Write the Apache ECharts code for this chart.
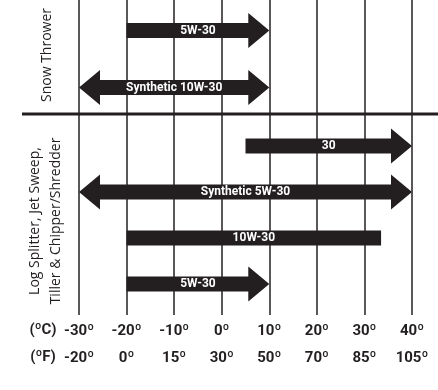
<!DOCTYPE html>
<html><head><meta charset="utf-8">
<script src="https://cdn.jsdelivr.net/npm/echarts@6/dist/echarts.min.js"></script>
<style>html,body{margin:0;padding:0;background:#fff}#c{width:438px;height:390px}</style>
</head><body><div id="c"></div>
<script>
// ---- data ----
const celsiusTicks = ['-30º','-20º','-10º','0º','10º','20º','30º','40º'];
const fahrenheitTicks = ['-20º','0º','15º','30º','50º','70º','85º','105º'];

const snowGroup = 'Snow Thrower';
const snowOils = ['5W-30', 'Synthetic 10W-30'];
const snowFrom = [-20, -30];
const snowTo = [10, 10];
const snowArrowLeft = [0, 1];
const snowArrowRight = [1, 1];

const logGroup = ['Log Splitter, Jet Sweep,', 'Tiller & Chipper/Shredder'];
const logOils = ['30', 'Synthetic 5W-30', '10W-30', '5W-30'];
const logFrom = [5, -30, -20, -20];
const logTo = [40, 40, 33.5, 10];
const logArrowLeft = [0, 1, 0, 0];
const logArrowRight = [1, 1, 0, 1];

// ---- style ----
const INK = '#231f20';
const COND = '"Liberation Sans Narrow", "Arial Narrow", "Roboto", sans-serif';
const REG = '"Open Sans", "Noto Sans", sans-serif';
const GL = 79, GR = 26;

function makeRender(labels, aL, aR) {
  return function (params, api) {
    const i = params.dataIndex;
    const p0 = api.coord([api.value(0), api.value(2)]);
    const p1 = api.coord([api.value(1), api.value(2)]);
    const y = p0[1], xl = p0[0], xr = p1[0];
    const h = 7.5, H = 17.5, L = 21;
    const pts = [];
    if (aL[i]) { pts.push([xl, y], [xl + L, y - H], [xl + L, y - h]); } else { pts.push([xl, y - h]); }
    if (aR[i]) { pts.push([xr - L, y - h], [xr - L, y - H], [xr, y], [xr - L, y + H], [xr - L, y + h]); }
    else { pts.push([xr, y - h], [xr, y + h]); }
    if (aL[i]) { pts.push([xl + L, y + h], [xl + L, y + H]); } else { pts.push([xl, y + h]); }
    return {
      type: 'group',
      children: [
        { type: 'polygon', shape: { points: pts }, style: { fill: INK } },
        { type: 'text', style: { text: labels[i], x: (xl + xr) / 2, y: y, align: 'center', verticalAlign: 'middle',
          fill: '#fff', font: 'bold 12px ' + COND } }
      ]
    };
  };
}

const chart = echarts.init(document.getElementById('c'), null, { renderer: 'canvas' });
chart.setOption({
  animation: false,
  grid: [
    { left: GL, right: GR, top: 0, bottom: 75 },
    { left: GL, right: GR, top: 2, height: 114 },
    { left: GL, right: GR, top: 123, height: 184 }
  ],
  xAxis: [
    { gridIndex: 0, type: 'value', min: -30, max: 40, interval: 10,
      axisLine: { show: false }, axisTick: { show: false },
      splitLine: { show: true, lineStyle: { color: INK, width: 1.5 } },
      axisLabel: {
        margin: 3,
        formatter: function (v) { const k = Math.round((v + 30) / 10); return '{c|' + celsiusTicks[k] + '}\n{f|' + fahrenheitTicks[k] + '}'; },
        rich: {
          c: { fontFamily: COND, fontWeight: 'bold', fontSize: 15, color: INK, lineHeight: 27 },
          f: { fontFamily: COND, fontWeight: 'bold', fontSize: 15, color: INK, lineHeight: 27 }
        }
      } },
    { gridIndex: 1, type: 'value', min: -30, max: 40, show: false },
    { gridIndex: 2, type: 'value', min: -30, max: 40, show: false }
  ],
  yAxis: [
    { gridIndex: 0, type: 'value', show: false },
    { gridIndex: 1, type: 'category', data: snowOils, inverse: true, show: false },
    { gridIndex: 2, type: 'category', data: logOils, inverse: true, show: false }
  ],
  series: [
    { type: 'custom', xAxisIndex: 1, yAxisIndex: 1, renderItem: makeRender(snowOils, snowArrowLeft, snowArrowRight),
      encode: { x: [0, 1], y: 2 },
      data: snowOils.map((n, i) => [snowFrom[i], snowTo[i], i]) },
    { type: 'custom', xAxisIndex: 2, yAxisIndex: 2, renderItem: makeRender(logOils, logArrowLeft, logArrowRight),
      encode: { x: [0, 1], y: 2 },
      data: logOils.map((n, i) => [logFrom[i], logTo[i], i]) }
  ],
  graphic: [
    { type: 'line', shape: { x1: 22, y1: 114, x2: 438, y2: 114 }, style: { stroke: INK, lineWidth: 3 }, z: 10 },
    { type: 'text', x: 47, y: 55, rotation: Math.PI / 2,
      style: { text: snowGroup, font: '14px ' + REG, fill: INK, align: 'center', verticalAlign: 'middle' } },
    { type: 'text', x: 46, y: 221, rotation: Math.PI / 2,
      style: { text: logGroup.join('\n'), font: '14px ' + REG, lineHeight: 21, fill: INK, align: 'center', verticalAlign: 'middle' } },
    { type: 'text', x: 43, y: 330, style: { text: '(ºC)', font: 'bold 15px ' + COND, fill: INK, align: 'center', verticalAlign: 'middle' } },
    { type: 'text', x: 43, y: 357, style: { text: '(ºF)', font: 'bold 15px ' + COND, fill: INK, align: 'center', verticalAlign: 'middle' } }
  ]
});
</script></body></html>
